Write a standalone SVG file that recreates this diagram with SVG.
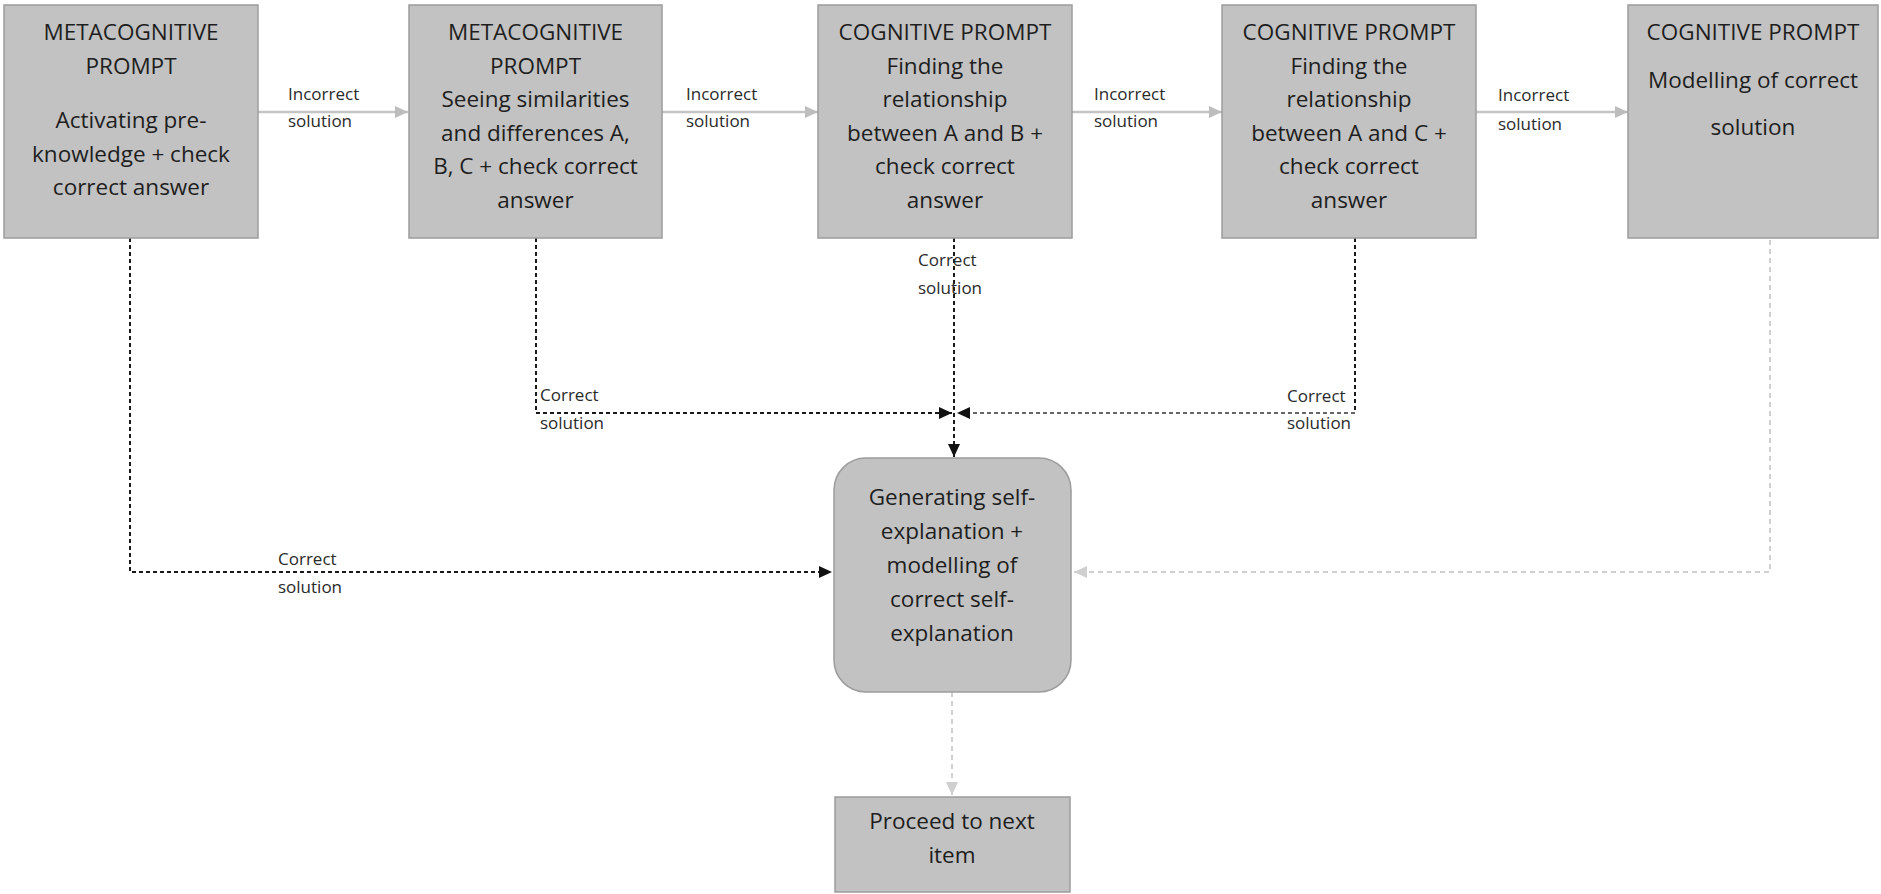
<svg xmlns="http://www.w3.org/2000/svg" width="1881" height="894" viewBox="0 0 1881 894">
<style>
.box{fill:#c2c2c2;stroke:#9c9c9c;stroke-width:1.5}
.t{font-family:"Open Sans","Noto Sans",sans-serif;font-size:22.5px;fill:#1e1e1e;text-anchor:middle}
.l{font-family:"Open Sans","Noto Sans",sans-serif;font-size:17px;fill:#2a2a2a}
.inc{fill:none;stroke:#c4c4c4;stroke-width:2.5}
.dk{fill:none;stroke:#1a1a1a;stroke-width:2;stroke-dasharray:4 3}
.md{fill:none;stroke:#666;stroke-width:2;stroke-dasharray:4 3}
.lt{fill:none;stroke:#d0d0d0;stroke-width:2;stroke-dasharray:5 4}
</style>
<defs>
<marker id="ag" markerUnits="userSpaceOnUse" markerWidth="13" markerHeight="12" refX="13" refY="6" orient="auto"><path d="M0,0 L13,6 L0,12 z" fill="#bdbdbd"/></marker>
<marker id="ab" markerUnits="userSpaceOnUse" markerWidth="13" markerHeight="12" refX="13" refY="6" orient="auto"><path d="M0,0 L13,6 L0,12 z" fill="#111"/></marker>
<marker id="al" markerUnits="userSpaceOnUse" markerWidth="13" markerHeight="12" refX="13" refY="6" orient="auto"><path d="M0,0 L13,6 L0,12 z" fill="#cfcfcf"/></marker>
</defs>
<rect width="1881" height="894" fill="#fff"/>

<g id="connectors">
<line class="inc" x1="258" y1="112" x2="408" y2="112" marker-end="url(#ag)"/>
<line class="inc" x1="662" y1="112" x2="818" y2="112" marker-end="url(#ag)"/>
<line class="inc" x1="1072" y1="112" x2="1222" y2="112" marker-end="url(#ag)"/>
<line class="inc" x1="1476" y1="112" x2="1628" y2="112" marker-end="url(#ag)"/>
<polyline class="dk" points="130,238 130,572 832,572" marker-end="url(#ab)"/>
<polyline class="dk" points="536,238 536,413 952,413" marker-end="url(#ab)"/>
<line class="dk" x1="954" y1="238" x2="954" y2="457" marker-end="url(#ab)"/>
<line class="dk" x1="1355" y1="238" x2="1355" y2="413"/>
<line class="md" x1="1355" y1="413" x2="957" y2="413" marker-end="url(#ab)"/>
<polyline class="lt" points="1770,240 1770,572 1074,572" marker-end="url(#al)"/>
<line class="lt" x1="952" y1="692" x2="952" y2="795" marker-end="url(#al)"/>
<text class="l" x="288" y="100">Incorrect</text><text class="l" x="288" y="127">solution</text>
<text class="l" x="686" y="100">Incorrect</text><text class="l" x="686" y="127">solution</text>
<text class="l" x="1094" y="100">Incorrect</text><text class="l" x="1094" y="127">solution</text>
<text class="l" x="1498" y="101">Incorrect</text><text class="l" x="1498" y="130">solution</text>
<text class="l" x="918" y="266">Correct</text><text class="l" x="918" y="294">solution</text>
<text class="l" x="540" y="401">Correct</text><text class="l" x="540" y="429">solution</text>
<text class="l" x="1287" y="402">Correct</text><text class="l" x="1287" y="429">solution</text>
<text class="l" x="278" y="565">Correct</text><text class="l" x="278" y="593">solution</text>
</g>

<g id="n1">
<rect class="box" x="4" y="5" width="254" height="233"/>
<text class="t" x="131" y="40">METACOGNITIVE</text>
<text class="t" x="131" y="74">PROMPT</text>
<text class="t" x="131" y="128">Activating pre-</text>
<text class="t" x="131" y="162">knowledge + check</text>
<text class="t" x="131" y="195">correct answer</text>
</g>
<g id="n2">
<rect class="box" x="409" y="5" width="253" height="233"/>
<text class="t" x="535.5" y="40">METACOGNITIVE</text>
<text class="t" x="535.5" y="74">PROMPT</text>
<text class="t" x="535.5" y="107">Seeing similarities</text>
<text class="t" x="535.5" y="141">and differences A,</text>
<text class="t" x="535.5" y="174">B, C + check correct</text>
<text class="t" x="535.5" y="208">answer</text>
</g>
<g id="n3">
<rect class="box" x="818" y="5" width="254" height="233"/>
<text class="t" x="945" y="40">COGNITIVE PROMPT</text>
<text class="t" x="945" y="74">Finding the</text>
<text class="t" x="945" y="107">relationship</text>
<text class="t" x="945" y="141">between A and B +</text>
<text class="t" x="945" y="174">check correct</text>
<text class="t" x="945" y="208">answer</text>
</g>
<g id="n4">
<rect class="box" x="1222" y="5" width="254" height="233"/>
<text class="t" x="1349" y="40">COGNITIVE PROMPT</text>
<text class="t" x="1349" y="74">Finding the</text>
<text class="t" x="1349" y="107">relationship</text>
<text class="t" x="1349" y="141">between A and C +</text>
<text class="t" x="1349" y="174">check correct</text>
<text class="t" x="1349" y="208">answer</text>
</g>
<g id="n5">
<rect class="box" x="1628" y="5" width="250" height="233"/>
<text class="t" x="1753" y="40">COGNITIVE PROMPT</text>
<text class="t" x="1753" y="88">Modelling of correct</text>
<text class="t" x="1753" y="135">solution</text>
</g>
<g id="n6">
<rect class="box" x="834" y="458" width="237" height="234" rx="32" ry="32"/>
<text class="t" x="952" y="505">Generating self-</text>
<text class="t" x="952" y="539">explanation +</text>
<text class="t" x="952" y="573">modelling of</text>
<text class="t" x="952" y="607">correct self-</text>
<text class="t" x="952" y="641">explanation</text>
</g>
<g id="n7">
<rect class="box" x="835" y="797" width="235" height="95"/>
<text class="t" x="952" y="829">Proceed to next</text>
<text class="t" x="952" y="863">item</text>
</g>
</svg>
